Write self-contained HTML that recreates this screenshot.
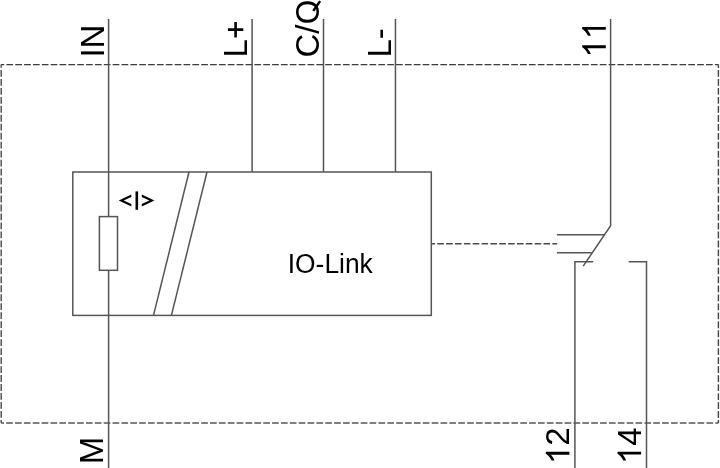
<!DOCTYPE html>
<html><head><meta charset="utf-8"><style>
html,body{margin:0;padding:0;background:#fff;width:720px;height:468px;overflow:hidden;}
svg{display:block;will-change:transform;}
text{font-family:"Liberation Sans",sans-serif;fill:#000;}
</style></head><body>
<svg width="720" height="468" viewBox="0 0 720 468">
<defs>
<path id="one" d="M763 0 L583 0 L583 1147 Q518 1085 415 1024.5 Q312 964 223 931 L223 1105 Q373 1176 486 1276.5 Q599 1377 643 1466 L763 1466 Z"/>
</defs>
<g fill="none">
<line x1="1" y1="64.55" x2="718.4" y2="64.55" stroke="#3c3c3c" stroke-width="1.3" stroke-dasharray="6.7 2.156" stroke-dashoffset="3.456"/>
<line x1="1" y1="423" x2="718.4" y2="423" stroke="#555" stroke-width="1.5" stroke-dasharray="6.7 2.164" stroke-dashoffset="3.7"/>
<line x1="1.2" y1="64.55" x2="1.2" y2="423" stroke="#555" stroke-width="1.5" stroke-dasharray="6.8 2.175" stroke-dashoffset="3.575"/>
<line x1="718.4" y1="64.55" x2="718.4" y2="423" stroke="#444" stroke-width="1.4" stroke-dasharray="6.8 2.175" stroke-dashoffset="3.475"/>
<line x1="431.5" y1="243.75" x2="557.2" y2="243.75" stroke="#4a4a4a" stroke-width="1.5" stroke-dasharray="6.6 2.25" stroke-dashoffset="3.05"/>
</g>
<g fill="none" stroke="#555" stroke-width="1.5">
<line x1="108.6" y1="19" x2="108.6" y2="216.6"/>
<line x1="108.6" y1="270.3" x2="108.6" y2="468"/>
<rect x="99.4" y="216.6" width="18.1" height="53.7"/>
<line x1="252.1" y1="19" x2="252.1" y2="172"/>
<line x1="323.5" y1="19" x2="323.5" y2="172"/>
<line x1="395.45" y1="19" x2="395.45" y2="172"/>
<rect x="72.8" y="172" width="358.5" height="143.4"/>
<line x1="189" y1="172" x2="153.5" y2="315.4"/>
<line x1="207" y1="172" x2="171.4" y2="315.4"/>
<polyline points="610.6,19 610.6,225.7 583.2,266.2"/>
<line x1="556.9" y1="234.8" x2="604" y2="234.8"/>
<line x1="556.9" y1="252.75" x2="591.6" y2="252.75"/>
<polyline points="593.2,261.65 574.9,261.65 574.9,468"/>
<polyline points="628.7,261.65 646.5,261.65 646.5,468"/>
</g>
<g font-size="33">
<text transform="translate(104,57.55) rotate(-90) scale(1,1.03)">IN</text>
<text transform="translate(247.3,57.5) rotate(-90) scale(1,1.03)">L</text>
<path fill="#000" d="M227.9 28.3H243.3V30.9H227.9Z M234.3 22.1H236.9V37.4H234.3Z"/>
<g transform="translate(319.4,57.5) rotate(-90)">
<text transform="scale(1,1.03)">C</text>
<text x="23.83">/</text>
<text transform="translate(33.3,0) scale(0.955,1.025)">O</text>
<line x1="46.6" y1="-6.1" x2="56.4" y2="0.7" stroke="#000" stroke-width="2.5"/>
</g>
<text transform="translate(390.6,57.5) rotate(-90) scale(1,1.03)">L-</text>
<text transform="translate(103.3,464.3) rotate(-90) scale(1,1.03)">M</text>
<g transform="translate(605.8,57.6) rotate(-90)">
<use href="#one" transform="scale(0.016113,-0.016113)"/>
<use href="#one" transform="translate(18.35,0) scale(0.016113,-0.016113)"/>
</g>
<g transform="translate(569.4,464.04) rotate(-90)">
<use href="#one" transform="scale(0.016113,-0.016113)"/>
<text x="18.35" transform="scale(1,1.03)">2</text>
</g>
<g transform="translate(641.1,464.0) rotate(-90)">
<use href="#one" transform="scale(0.016113,-0.016113)"/>
<text x="18.35" transform="scale(1,1.03)">4</text>
</g>
</g>
<polygon fill="#000" points="131.3,194.4 118.8,200.5 131.3,206.6 131.3,204.1 123.7,200.5 131.3,196.9"/>
<polygon fill="#000" points="141.8,194.4 154.4,200.5 141.8,206.6 141.8,204.1 149.4,200.5 141.8,196.9"/>
<rect x="135.5" y="191.4" width="2.6" height="18.4" fill="#000"/>
<text transform="translate(287.76,272.6) scale(1,1.03)" font-size="26.4">IO-Link</text>
</svg>
</body></html>
